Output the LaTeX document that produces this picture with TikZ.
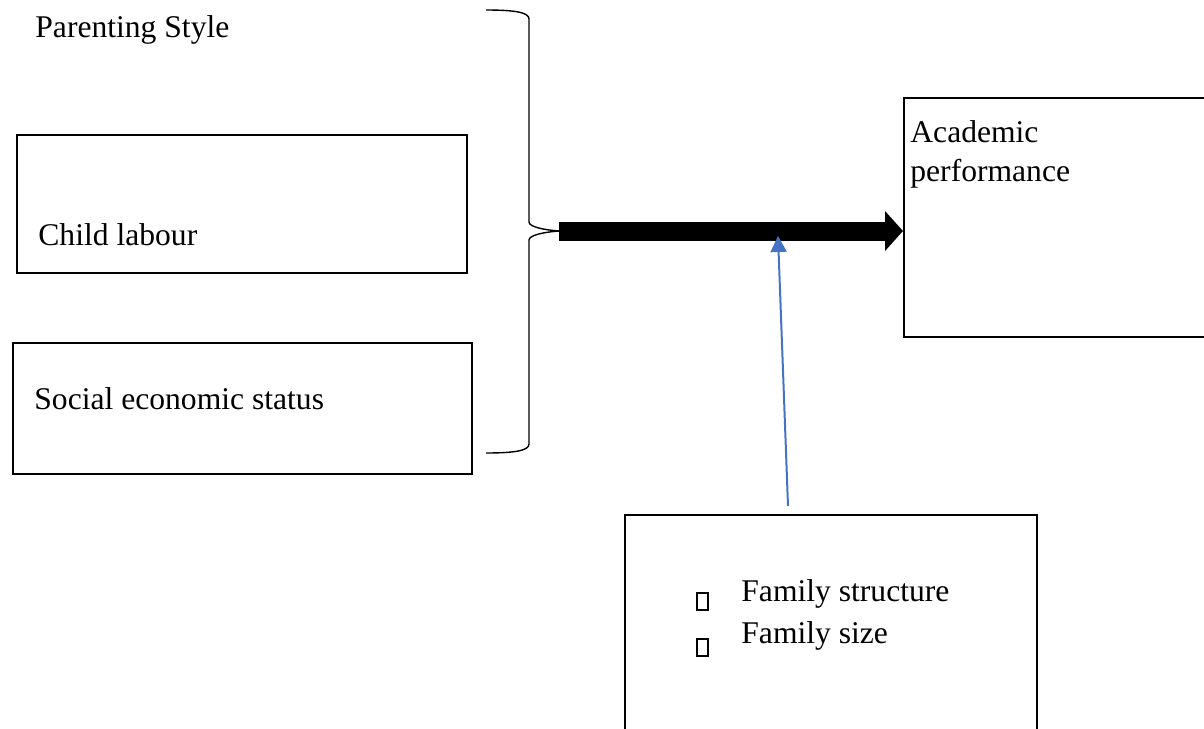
\documentclass[tikz,border=0pt]{standalone}
\usepackage{fontspec}
\setmainfont{Liberation Serif}
\usetikzlibrary{arrows.meta}

\definecolor{officeblue}{RGB}{68,114,196}

\tikzset{
  box/.style={draw,line width=1pt,rectangle,anchor=north west,inner sep=0pt},
  txt/.style={anchor=base west,inner sep=0pt,font=\fontsize{15.8}{20}\selectfont},
  bullet/.style={draw,line width=0.9pt,rectangle,anchor=north west,inner sep=0pt,
    minimum width=5.5pt,minimum height=8.5pt},
}

\begin{document}
\begin{tikzpicture}[x=0.5pt,y=-0.5pt]
      \useasboundingbox (0,0) rectangle (1204,728);

      %%%%%%%%%%%%%%%%%%%%%%%%%%%%%%%%%%%%%%%%%%%%%%%%%%%%%%%%%%%%%%%%%%%%%%%%%%%
      %%%%  Left side: the three factors
      \node[txt] (parenting) at (35,37) {Parenting Style};

      \node[box,minimum width=225pt,minimum height=69pt] (labourBox) at (16,134) {};
      \node[txt] (labour) at (38,245) {Child labour};

      \node[box,minimum width=229.5pt,minimum height=65.5pt] (sesBox) at (12,342) {};
      \node[txt] (ses) at (34,409) {Social economic status};

      %%%%%%%%%%%%%%%%%%%%%%%%%%%%%%%%%%%%%%%%%%%%%%%%%%%%%%%%%%%%%%%%%%%%%%%%%%%
      %%%%  Brace
      \coordinate (tip) at (559,231);
      \draw[line width=0.7pt] (486,10) .. controls (518,10) and (529,13) .. (529,19)
          -- (529,222) .. controls (529,227) and (545,230) .. (tip);
      \draw[line width=0.7pt] (tip) .. controls (545,232) and (529,235) .. (529,240)
          -- (529,444) .. controls (529,450) and (518,453) .. (486,453);

      %%%%%%%%%%%%%%%%%%%%%%%%%%%%%%%%%%%%%%%%%%%%%%%%%%%%%%%%%%%%%%%%%%%%%%%%%%%
      %%%%  Outcome
      \node[box,minimum width=156pt,minimum height=119.5pt] (perfBox) at (903,97) {};
      \node[txt] (academic) at (910,142) {Academic};
      \node[txt] (performance) at (910,181) {performance};

      \draw[line width=9.5pt,-{Triangle[length=9pt,width=19.5pt]}]
          (tip) -- (tip -| perfBox.west);

      %%%%%%%%%%%%%%%%%%%%%%%%%%%%%%%%%%%%%%%%%%%%%%%%%%%%%%%%%%%%%%%%%%%%%%%%%%%
      %%%%  Family box (blue)
      \node[box,minimum width=206pt,minimum height=110.5pt] (famBox) at (624,514) {};

      \foreach \y/\name in {592/bulA,638/bulB}
       {\node[bullet] (\name) at (696,\y) {};
       };
      \node[txt] (structure) at (741,601) {Family structure};
      \node[txt] (size) at (741,643) {Family size};

      \coordinate (blueFoot) at (788,506);
      \coordinate (blueHead) at (778,236);
      \draw[officeblue,line width=1pt,-{Triangle[length=8pt,width=8pt]}]
          (blueFoot) -- (blueHead);
    \end{tikzpicture}
\end{document}
